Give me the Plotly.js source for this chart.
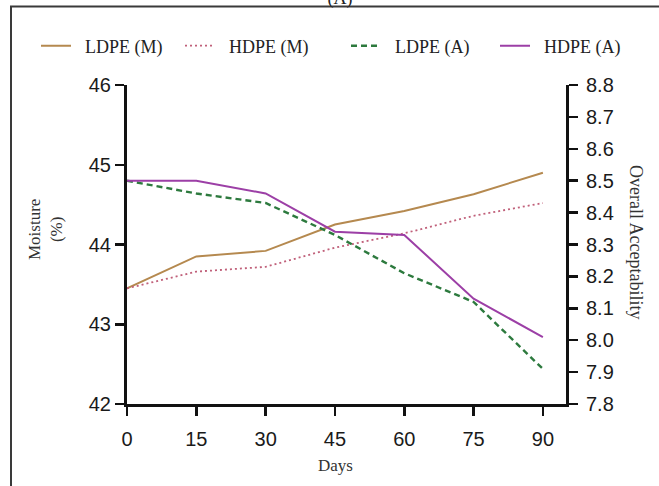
<!DOCTYPE html>
<html>
<head>
<meta charset="utf-8">
<script src="https://cdn.plot.ly/plotly-3.0.1.min.js"></script>
<style>
  html, body { margin: 0; padding: 0; background: #fff; }
  #chart { width: 659px; height: 486px; }
</style>
</head>
<body>
<div id="chart"></div>
<script>
// Storage days
const days = [0, 15, 30, 45, 60, 75, 90];

// Moisture (%) per packaging
const ldpeMoisture = [43.45, 43.85, 43.92, 44.25, 44.42, 44.63, 44.90];
const hdpeMoisture = [43.45, 43.66, 43.72, 43.96, 44.14, 44.36, 44.52];

// Overall acceptability scores per packaging
const ldpeAccept = [8.50, 8.46, 8.43, 8.33, 8.21, 8.12, 7.91];
const hdpeAccept = [8.50, 8.50, 8.46, 8.34, 8.33, 8.13, 8.01];

// Axis ticks
const dayTicks = [0, 15, 30, 45, 60, 75, 90];
const moistureTicks = [42, 43, 44, 45, 46];
const acceptTicks = [7.8, 7.9, 8.0, 8.1, 8.2, 8.3, 8.4, 8.5, 8.6, 8.7, 8.8];

// Series labels
const names = ['LDPE (M)', 'HDPE (M)', 'LDPE (A)', 'HDPE (A)'];

const SERIF = '"Liberation Serif", "Times New Roman", serif';
const SANS = '"Liberation Sans", Arial, sans-serif';
const pad = '\u00a0\u00a0';

const traces = [
  { x: days, y: ldpeMoisture, name: pad + names[0], yaxis: 'y', legend: 'legend',
    line: { color: '#b5894f', width: 2 } },
  { x: days, y: hdpeMoisture, name: pad + names[1], yaxis: 'y', legend: 'legend2',
    line: { color: '#c0607a', width: 1.8, dash: '2px,3px' } },
  { x: days, y: ldpeAccept, name: pad + names[2], yaxis: 'y2', legend: 'legend3',
    line: { color: '#2d7a3e', width: 2.4, dash: '6px,4px' } },
  { x: days, y: hdpeAccept, name: pad + names[3], yaxis: 'y2', legend: 'legend4',
    line: { color: '#9c3fa6', width: 2 } }
].map(t => Object.assign({ type: 'scatter', mode: 'lines', hoverinfo: 'skip' }, t));

const W = 659, H = 486;
const M = { l: 127, r: 93, t: 85, b: 82 };
const pw = W - M.l - M.r, ph = H - M.t - M.b;
// pixel -> paper helpers for placing text around the plot
const px = v => (v - M.l) / pw;
const py = v => (H - M.b - v) / ph;

function legendAt(xPix) {
  return {
    x: px(xPix), y: py(46), xanchor: 'left', yanchor: 'middle',
    orientation: 'h', bgcolor: 'rgba(0,0,0,0)', borderwidth: 0,
    font: { family: SERIF, size: 18, color: '#222' }
  };
}

const axisCommon = {
  showgrid: false, zeroline: false, showline: true,
  linecolor: '#111', linewidth: 3,
  ticks: 'outside', ticklen: 9, tickwidth: 2.5, tickcolor: '#111',
  tickfont: { family: SANS, size: 20, color: '#1a1a1a' },
  fixedrange: true
};

const layout = {
  width: W, height: H,
  margin: M,
  paper_bgcolor: '#fff', plot_bgcolor: '#fff',
  showlegend: true,
  title: {
    text: '(A)', x: 340 / W, xanchor: 'center', xref: 'container',
    y: 1 - 4 / H, yanchor: 'bottom', yref: 'container',
    font: { family: SERIF, size: 18, color: '#222' }
  },
  legend: legendAt(36),
  legend2: legendAt(180),
  legend3: legendAt(346),
  legend4: legendAt(495),
  xaxis: Object.assign({}, axisCommon, {
    range: [0, 95], tickvals: dayTicks, ticklabelstandoff: 6
  }),
  yaxis: Object.assign({}, axisCommon, {
    range: [42, 46], tickvals: moistureTicks, ticklabelstandoff: 0
  }),
  yaxis2: Object.assign({}, axisCommon, {
    range: [7.8, 8.8], tickvals: acceptTicks, tickformat: '.1f',
    overlaying: 'y', side: 'right', ticklabelstandoff: 4
  }),
  annotations: [
    { text: 'Moisture<br>(%)', x: px(45), y: py(230), xref: 'paper', yref: 'paper',
      textangle: -90, showarrow: false, xanchor: 'center', yanchor: 'middle',
      font: { family: SERIF, size: 17, color: '#333' } },
    { text: 'Overall Acceptability', x: px(636), y: py(242), xref: 'paper', yref: 'paper',
      textangle: 90, showarrow: false, xanchor: 'center', yanchor: 'middle',
      font: { family: SERIF, size: 18, color: '#333' } },
    { text: 'Days', x: px(335), y: py(466), xref: 'paper', yref: 'paper',
      showarrow: false, xanchor: 'center', yanchor: 'middle',
      font: { family: SERIF, size: 17, color: '#333' } }
  ],
  shapes: [
    // outer frame around the figure panel
    { type: 'rect', xref: 'paper', yref: 'paper', layer: 'below',
      x0: px(11), x1: px(700), y0: py(520), y1: py(6.5),
      line: { color: '#3a3a3a', width: 2 }, fillcolor: 'rgba(0,0,0,0)' }
  ]
};

Plotly.newPlot('chart', traces, layout, { staticPlot: true, displayModeBar: false });
</script>
</body>
</html>
